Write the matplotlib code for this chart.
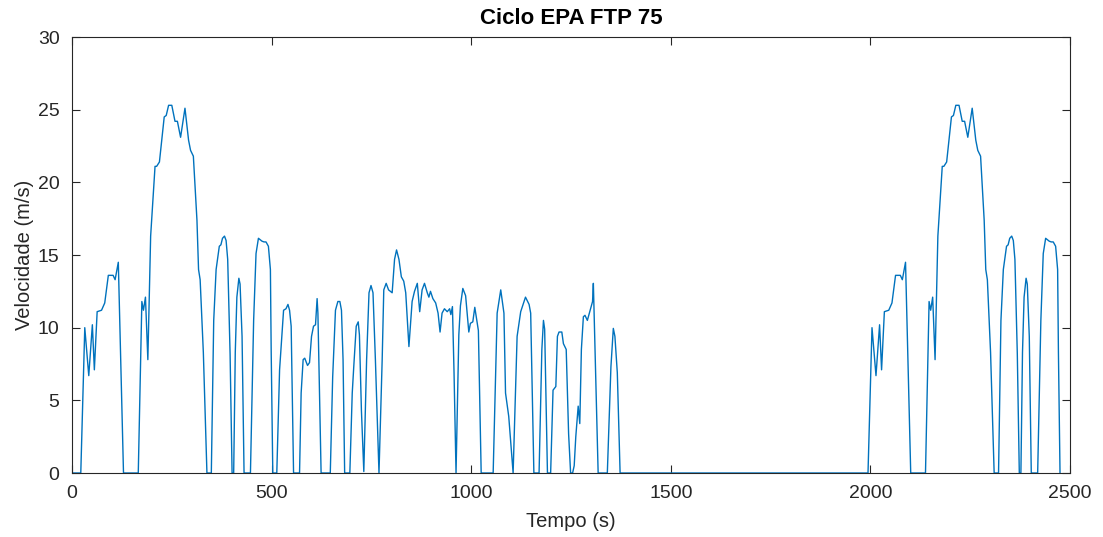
import numpy as np
import matplotlib.pyplot as plt

plt.rcParams['font.family'] = ['Liberation Sans', 'DejaVu Sans']

# Fase 1 (partida a frio), tempo em s e velocidade em m/s
t1 = [0, 20, 22, 32, 42, 51, 56, 63, 74, 82, 91, 103, 108, 116, 129, 166,
      175, 179, 184, 190, 197, 208, 212, 219, 231, 236, 242, 250, 258, 264,
      272, 283, 292, 297, 304, 313, 317, 321, 329, 338, 349, 355, 361, 369,
      373, 377, 382, 386, 390, 396, 401, 405, 409, 413, 418, 421, 426, 431,
      447, 455, 461, 467, 476, 481, 486, 492, 497, 499, 503]
v1 = [0, 0, 0, 10.0, 6.7, 10.2, 7.1, 11.1, 11.2, 11.7, 13.6, 13.6, 13.3,
      14.5, 0, 0, 11.8, 11.2, 12.1, 7.8, 16.3, 21.1, 21.1, 21.4, 24.5, 24.6,
      25.3, 25.3, 24.2, 24.2, 23.1, 25.1, 22.9, 22.2, 21.8, 17.4, 14.0, 13.3,
      8.3, 0, 0, 10.5, 14.0, 15.6, 15.7, 16.15, 16.3, 16.0, 14.7, 8.2, 0, 0,
      8.3, 12.1, 13.4, 13.0, 9.4, 0, 0, 10.5, 15.1, 16.15, 15.95, 15.9, 15.9,
      15.6, 14.0, 8.3, 0]

# Fase 2 (estabilizada)
t2 = [513, 520, 530, 536, 541, 545, 549, 555, 570, 574, 579, 583, 590, 595,
      600, 605, 610, 614, 616, 620, 624, 647, 653, 660, 666, 671, 675, 679,
      683, 696, 702, 706, 712, 717, 720, 725, 731, 738, 744, 749, 754, 760,
      769, 777, 781, 787, 793, 802, 808, 813, 819, 825, 831, 836, 844, 852,
      858, 865, 871, 877, 883, 890, 894, 898, 904, 911, 917, 922, 927, 933,
      940, 946, 949, 953, 957, 962, 969, 973, 979, 986, 994, 998, 1004, 1009,
      1018, 1025, 1055, 1065, 1074, 1082, 1086, 1094, 1105, 1115, 1124, 1136,
      1145, 1149, 1157, 1170, 1177, 1181, 1184, 1191, 1199, 1205, 1212, 1216,
      1220, 1227, 1231, 1238, 1244, 1249, 1254, 1258, 1262, 1268, 1272, 1276,
      1281, 1285, 1291, 1297, 1304, 1306, 1312, 1318, 1341, 1350, 1356, 1360,
      1366, 1373]
v2 = [0, 7.1, 11.2, 11.3, 11.6, 11.2, 10.1, 0, 0, 5.5, 7.8, 7.9, 7.4, 7.6,
      9.4, 10.1, 10.2, 12.0, 11.0, 5.5, 0, 0, 6.6, 11.2, 11.8, 11.8, 11.2,
      7.8, 0, 0, 5.5, 7.4, 10.1, 10.4, 9.5, 4.3, 0.1, 7.8, 12.4, 12.9, 12.4,
      7.8, 0, 7.8, 12.6, 13.05, 12.6, 12.4, 14.7, 15.35, 14.7, 13.5, 13.2,
      12.4, 8.7, 11.8, 12.5, 13.05, 11.1, 12.6, 13.05, 12.4, 12.1, 12.5, 12.0,
      11.7, 11.0, 9.7, 11.0, 11.3, 11.1, 11.3, 10.9, 11.45, 6.9, 0, 9.5, 11.5,
      12.7, 12.2, 9.7, 10.3, 10.4, 11.4, 9.8, 0, 0, 11.0, 12.6, 11.0, 5.5,
      3.9, 0, 9.4, 11.1, 12.1, 11.6, 11.0, 0, 0, 8.5, 10.5, 9.9, 0, 0, 5.7,
      5.95, 9.4, 9.7, 9.7, 8.9, 8.5, 2.7, 0, 0, 0.5, 2.5, 4.6, 3.4, 8.5,
      10.75, 10.85, 10.5, 11.1, 11.8, 13.05, 6.4, 0, 0, 7.3, 9.95, 9.4, 6.9,
      0]

# Pausa (soak) e fase 3 (partida a quente = repeticao da fase 1)
t_inicio_fase3 = 1972

t = np.concatenate([t1, t2, np.array(t1) + t_inicio_fase3])
v = np.concatenate([v1, v2, v1])

fig = plt.figure(figsize=(11.03, 5.37), dpi=100)
ax = fig.add_axes([72 / 1103, 64 / 537, 998 / 1103, 436 / 537])
ax.plot(t, v, color='#0072BD', linewidth=1.0)

ax.set_xlim(0, 2500)
ax.set_ylim(0, 30)
ax.set_xticks(np.arange(0, 2501, 500))
ax.set_yticks(np.arange(0, 31, 5))
ax.tick_params(direction='in', top=True, right=True, labelsize=14,
               colors='#262626', length=6, width=0.8, pad=9)
for s in ax.spines.values():
    s.set_color('#262626')
    s.set_linewidth(0.8)

ax.set_xlabel('Tempo (s)', fontsize=14.5, color='#262626', labelpad=7)
ax.set_ylabel('Velocidade (m/s)', fontsize=14.5, color='#262626', labelpad=3)
ax.set_title('Ciclo EPA FTP 75', fontsize=16, fontweight='bold',
             color='black', pad=9)

fig.savefig('out.png', dpi=100)
